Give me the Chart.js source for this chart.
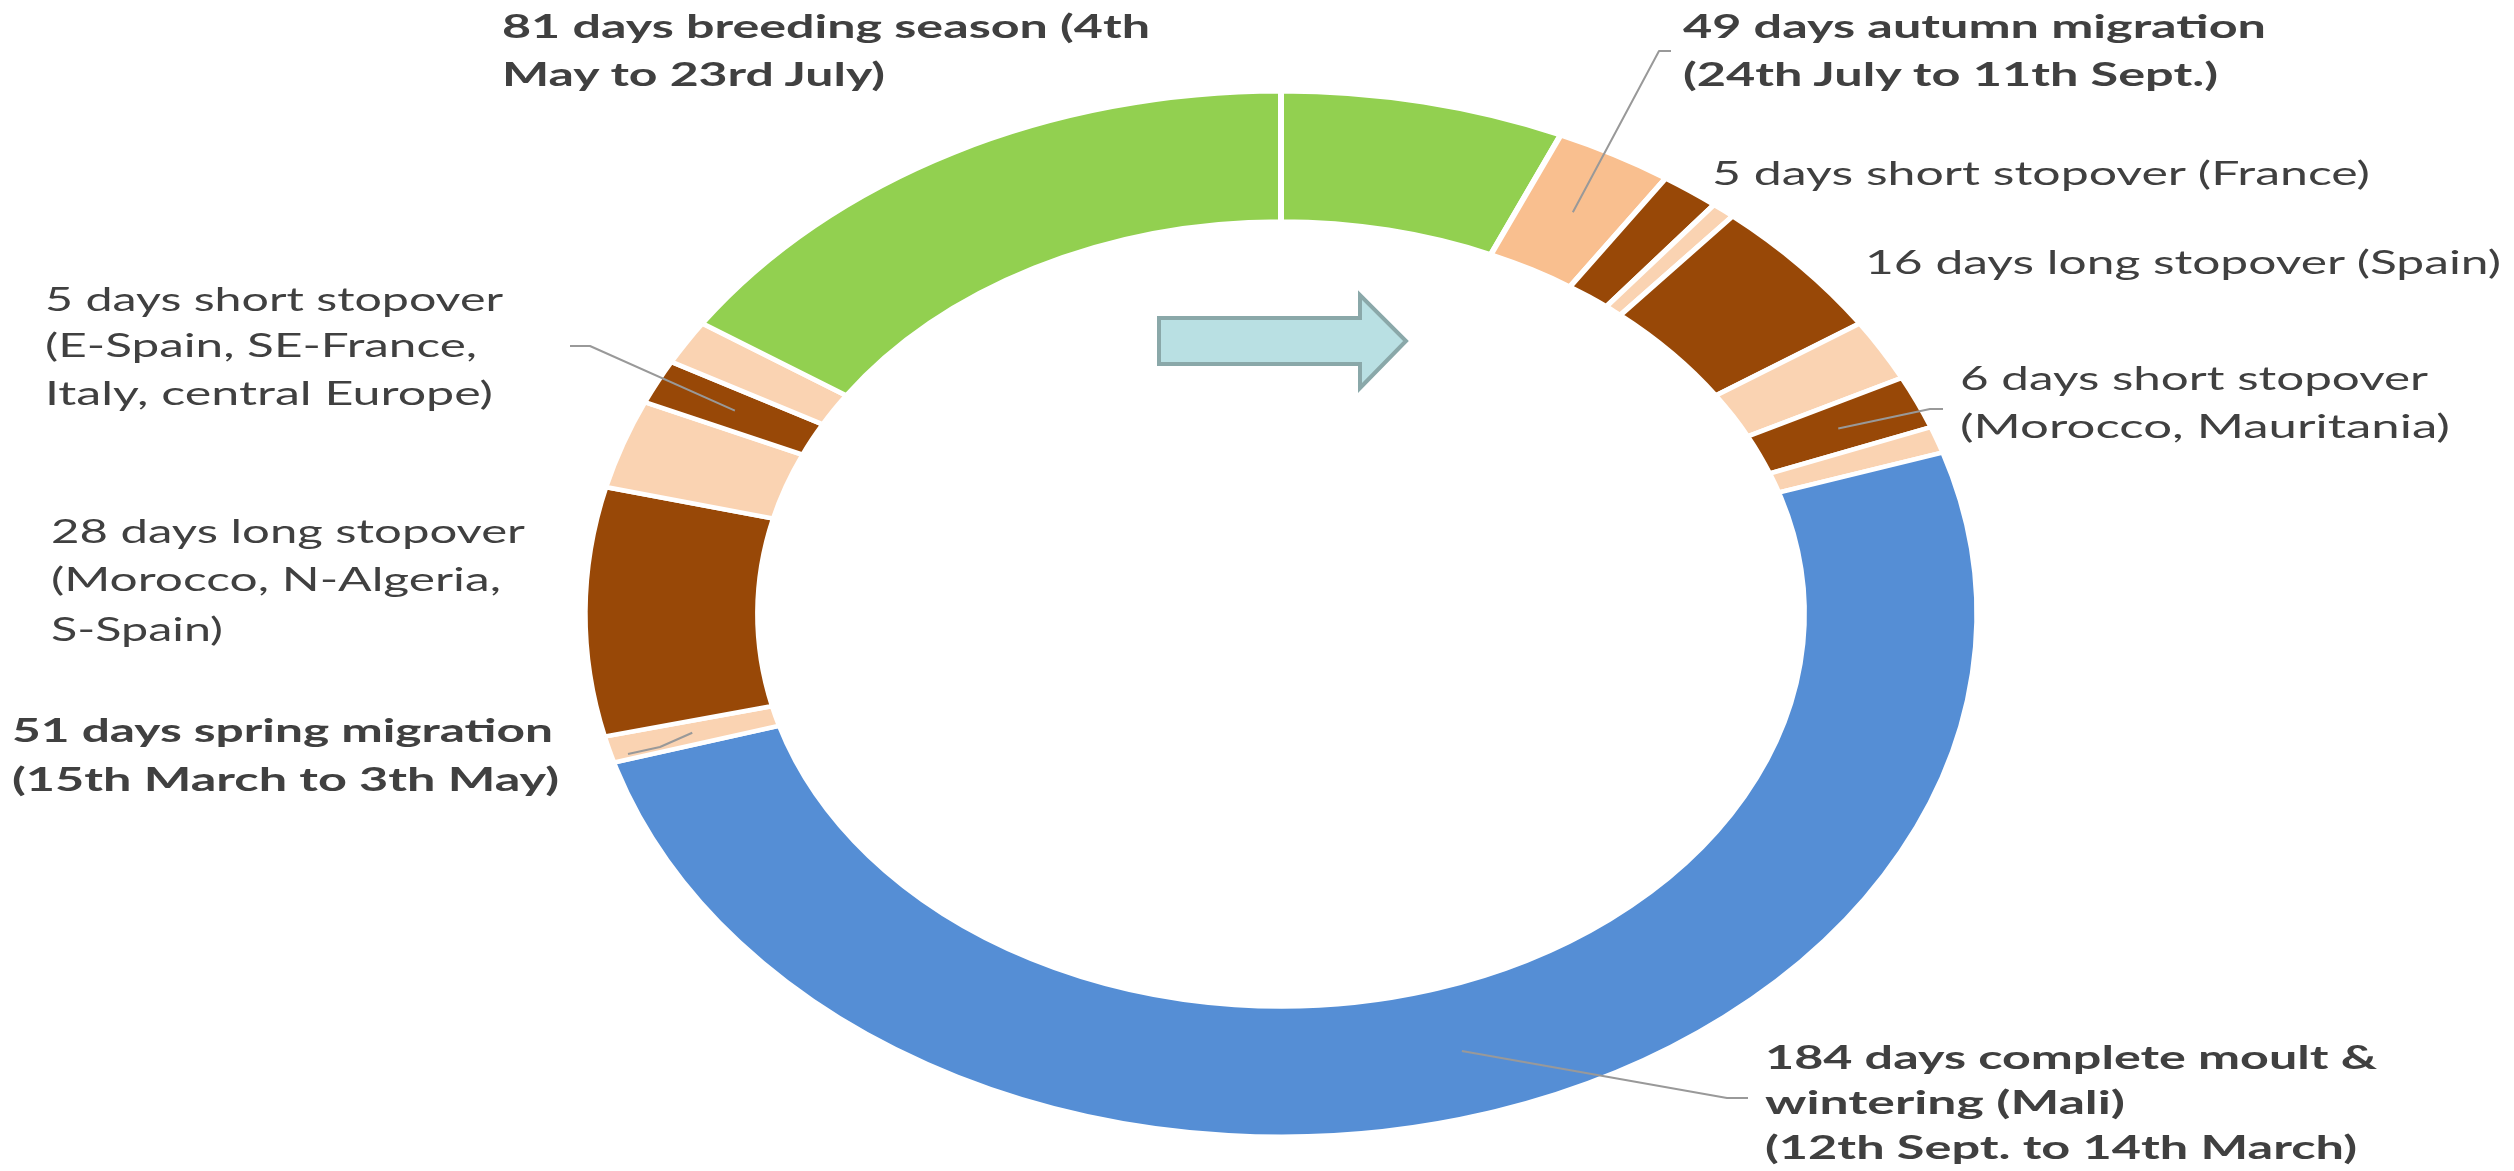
<!DOCTYPE html>
<html>
<head>
<meta charset="utf-8">
<script src="https://cdn.jsdelivr.net/npm/chart.js@4.4.1/dist/chart.umd.min.js"></script>
<style>
  html, body { margin: 0; padding: 0; background: #ffffff; overflow: hidden; }
  #wrap { position: relative; width: 2514px; height: 1171px; }
  #c { position: absolute; left: 0; top: 0; }
  #arrow { position: absolute; left: 0; top: 0; pointer-events: none; }
  .ln { position: absolute; white-space: nowrap; font-family: Lato, "Open Sans", sans-serif;
        color: #404040; line-height: 1.2; transform-origin: 0 50%; }
  .b { font-weight: 700; }
</style>
</head>
<body>
<div id="wrap">
  <canvas id="c" width="2514" height="1171"></canvas>
  <svg id="arrow" width="2514" height="1171">
    <polygon points="1159,318 1360,318 1360,295 1406,341 1360,388 1360,364 1159,364"
             fill="#b9e0e3" stroke="#8aa8a9" stroke-width="4" stroke-linejoin="miter"/>
  </svg>
  <div id="labels"></div>
</div>
<script>
// One year of the annual cycle, clockwise from the top of the ring.
const phases = [
  'Breeding (to 23 Jul)',
  'Autumn flight',
  'Short stopover France',
  'Autumn flight',
  'Long stopover Spain',
  'Autumn flight',
  'Short stopover Morocco, Mauritania',
  'Autumn flight',
  'Moult & wintering Mali',
  'Spring flight',
  'Long stopover Morocco, N-Algeria, S-Spain',
  'Spring flight',
  'Short stopover E-Spain, SE-France, Italy, central Europe',
  'Spring flight',
  'Breeding (from 4 May)'
];
const days = [24, 10, 5, 2, 16, 7, 6, 3, 184, 3, 28, 10, 5, 5, 57];

const GREEN = '#92d050', PEACH_DARK = '#f9bf8f', PEACH = '#fad3b2', BROWN = '#984807', BLUE = '#558ed5';
const phaseColors = [GREEN, PEACH_DARK, BROWN, PEACH, BROWN, PEACH, BROWN, PEACH,
                     BLUE, PEACH, BROWN, PEACH, BROWN, PEACH, GREEN];

// Callout texts, one entry per line.
const labelLines = [
  ['81 days breeding season (4th', 'May to 23rd July)'],
  ['49 days autumn migration', '(24th July to 11th Sept.)'],
  ['5 days short stopover (France)'],
  ['16 days long stopover (Spain)'],
  ['6 days short stopover', '(Morocco, Mauritania)'],
  ['184 days complete moult &', 'wintering (Mali)', '(12th Sept. to 14th March)'],
  ['5 days short stopover', '(E-Spain, SE-France,', 'Italy, central Europe)'],
  ['28 days long stopover', '(Morocco, N-Algeria,', 'S-Spain)'],
  ['51 days spring migration', '(15th March to 3th May)']
];

// Callout placement: left edge, centre line of each row, width of each row.
const labelLayout = [
  { x: 502,  bold: true,  cy: [27, 75],          w: [648, 383] },
  { x: 1683, bold: true,  cy: [27, 75],          w: [583, 535] },
  { x: 1712, bold: false, cy: [174],             w: [658] },
  { x: 1865, bold: false, cy: [263],             w: [636] },
  { x: 1960, bold: false, cy: [379, 427],        w: [468, 490] },
  { x: 1765, bold: true,  cy: [1058, 1103, 1148], w: [612, 360, 592] },
  { x: 45,   bold: false, cy: [300, 346, 394],   w: [458, 432, 448] },
  { x: 51,   bold: false, cy: [532, 580, 630],   w: [474, 450, 172] },
  { x: 12,   bold: true,  cy: [731, 780],        w: [541, 547] }
];

// Leader lines: from the centre of a slice through the listed points.
const leaders = [
  { seg: 1,  path: [[1659, 51], [1671, 51]] },
  { seg: 12, path: [[590, 346], [570, 346]] },
  { seg: 6,  path: [[1930, 409], [1943, 409]] },
  { seg: 9,  path: [[660, 747], [628, 754]] },
  { seg: 8,  path: [[1727, 1098], [1748, 1098]] }
];

const FONT_SIZE = 33;
const SX = 1.332; // horizontal stretch applied to the ring

const stretchRing = {
  id: 'stretchRing',
  beforeDatasetsDraw(chart) {
    const a = chart.getDatasetMeta(0).data[0];
    const ctx = chart.ctx;
    ctx.save();
    ctx.translate(a.x, a.y);
    ctx.scale(SX, 1);
    ctx.translate(-a.x, -a.y);
  },
  afterDatasetsDraw(chart) { chart.ctx.restore(); }
};

const leaderLines = {
  id: 'leaderLines',
  afterDraw(chart) {
    const arcs = chart.getDatasetMeta(0).data;
    const ctx = chart.ctx;
    ctx.save();
    ctx.strokeStyle = '#999999';
    ctx.lineWidth = 2;
    ctx.lineJoin = 'round';
    leaders.forEach(l => {
      const arc = arcs[l.seg];
      const p = arc.getCenterPoint();
      ctx.beginPath();
      ctx.moveTo(arc.x + (p.x - arc.x) * SX, p.y);
      l.path.forEach(([px, py]) => ctx.lineTo(px, py));
      ctx.stroke();
    });
    ctx.restore();
  }
};

new Chart(document.getElementById('c'), {
  type: 'doughnut',
  data: {
    labels: phases,
    datasets: [{
      data: days,
      backgroundColor: phaseColors,
      borderColor: '#ffffff',
      borderWidth: 4.5,
      hoverOffset: 0
    }]
  },
  options: {
    responsive: false,
    animation: false,
    devicePixelRatio: 1,
    cutout: '75.1%',
    rotation: 0,
    events: [],
    layout: { padding: { left: 756, right: 708, top: 89, bottom: 32 } },
    plugins: { legend: { display: false }, tooltip: { enabled: false } }
  },
  plugins: [stretchRing, leaderLines]
});

// Callout text
const holder = document.getElementById('labels');
labelLines.forEach((lines, i) => {
  const lay = labelLayout[i];
  lines.forEach((txt, j) => {
    const d = document.createElement('div');
    d.className = 'ln' + (lay.bold ? ' b' : '');
    d.textContent = txt;
    d.style.fontSize = FONT_SIZE + 'px';
    d.style.left = lay.x + 'px';
    d.style.top = (lay.cy[j] - 0.629 * FONT_SIZE) + 'px';
    holder.appendChild(d);
    const natural = d.getBoundingClientRect().width;
    d.style.transform = 'scaleX(' + (lay.w[j] / natural) + ')';
  });
});
</script>
</body>
</html>
